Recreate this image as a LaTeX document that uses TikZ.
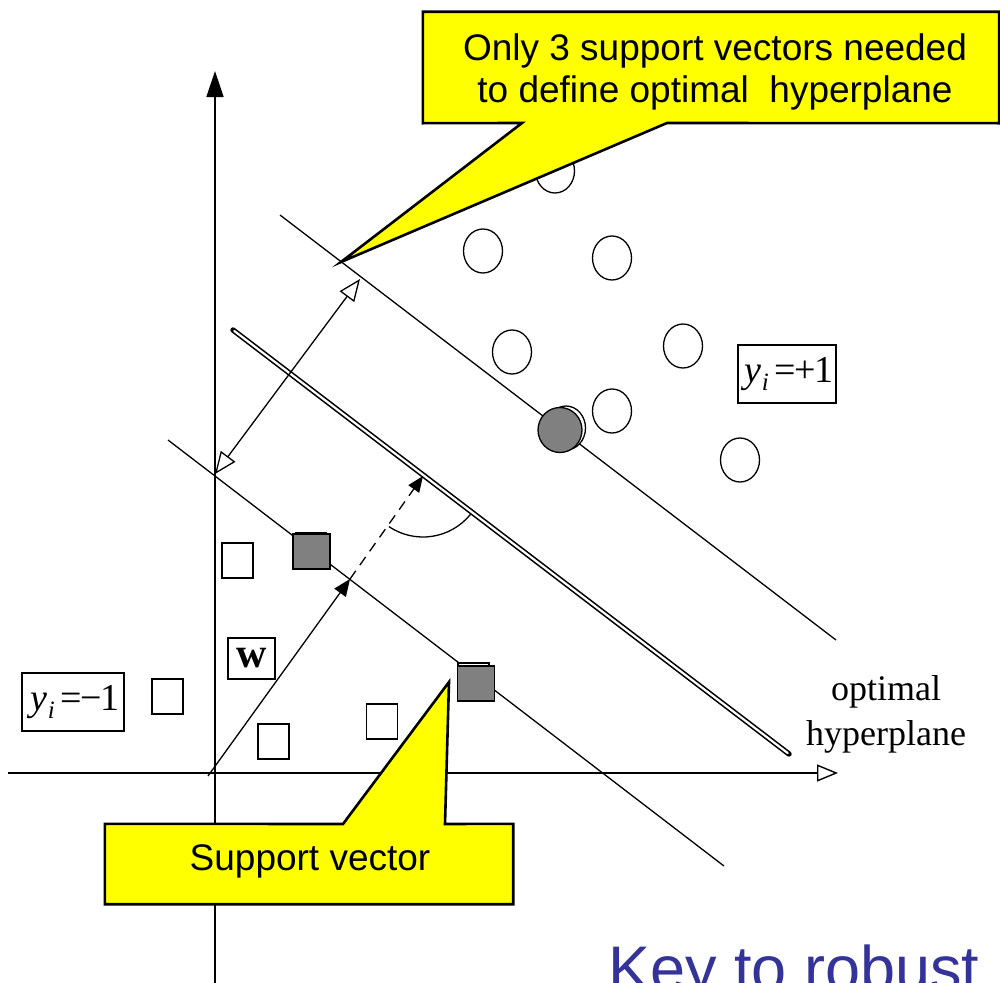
\documentclass[tikz,border=0pt]{standalone}
\usepackage{fontspec}
\setmainfont{Liberation Serif}
\newfontfamily\calloutfont{Liberation Sans}
\usetikzlibrary{arrows.meta,shapes.geometric}
\definecolor{callyellow}{HTML}{FFFF00}
\definecolor{svgray}{HTML}{808080}
\definecolor{titleblue}{HTML}{333399}

% label y_i with a sign
\newcommand\yilabel[1]{\hspace{0.12em}\textit{y}\raisebox{-0.22em}{\fontsize{25}{25}\selectfont\textit{i}}\hspace{0.14em}=\kern-0.04em#1\kern-0.02em1}

\begin{document}
\begin{tikzpicture}[x=1pt,y=-1pt,
  thinline/.style={line width=1.3pt},
  axisline/.style={line width=1.4pt},
  opensq/.style={draw,fill=white,line width=1.3pt,minimum width=31,minimum height=35,inner sep=0pt,rectangle},
  graysq/.style={draw,fill=svgray,line width=1.3pt,minimum width=37,minimum height=35,inner sep=0pt,rectangle},
  opencirc/.style={draw,fill=white,ellipse,line width=1.3pt,minimum width=39,minimum height=44,inner sep=0pt},
  graycirc/.style={draw,fill=svgray,ellipse,line width=1.3pt,minimum width=44,minimum height=45,inner sep=0pt},
  labelbox/.style={draw,line width=1.3pt,inner sep=0pt,font=\fontsize{38}{38}\selectfont},
  callout/.style={draw,fill=callyellow,line width=2.6pt,line join=miter},
  callouttext/.style={font=\calloutfont\fontsize{37}{42}\selectfont,align=center,inner sep=0pt}
]
\clip (0,0) rectangle (1000,982);
\fill[white] (0,0) rectangle (1000,982);

% coordinate axes
\coordinate (ybot) at (215,990);
\coordinate (ytop) at (215,71);
\coordinate (xleft) at (8,773);
\coordinate (xright) at (838,773);
\draw[axisline,-{Triangle[length=26,width=17]}] (ybot) -- (ytop);
\draw[axisline,-{Triangle[open,length=21,width=17,line width=1.4pt]}] (xleft) -- (xright);

% margin lines
\coordinate (ua) at (280,215);
\coordinate (ub) at (836,640);
\coordinate (la) at (168,440);
\coordinate (lb) at (724,866);
\draw[thinline] (ua) -- (ub);
\draw[thinline] (la) -- (lb);

% optimal hyperplane (double line with closed ends)
\coordinate (ha) at (233,330);
\coordinate (hb) at (789,754);
\draw[line width=5.4pt,line cap=round] (ha) -- (hb);
\draw[white,line width=2.2pt,line cap=round,shorten <=1.6pt,shorten >=1.6pt] (ha) -- (hb);

% margin width arrow
\coordinate (mlo) at (215,474);
\coordinate (mhi) at (360,279);
\draw[thinline,{Triangle[open,length=22,width=18,line width=1.3pt]}-{Triangle[open,length=22,width=18,line width=1.3pt]}] (mlo) -- (mhi);

% weight vector w
\coordinate (origin) at (208,776);
\coordinate (wtip) at (350,579);
\coordinate (htip) at (423,476);
\draw[thinline,-{Triangle[length=17,width=14]}] (origin) -- (wtip);
\draw[thinline,dash pattern=on 10pt off 7pt,-{Triangle[length=16,width=13]}] (wtip) -- (htip);
\draw[thinline] ([shift={(124:61)}]htip) arc[start angle=124,end angle=39,radius=61];

% class +1 points
\node[opencirc] (c1) at (555,171) {};
\node[opencirc] (c2) at (483,251) {};
\node[opencirc] (c3) at (612,258) {};
\node[opencirc] (c4) at (512,352) {};
\node[opencirc] (c5) at (683,346) {};
\node[opencirc] (c6) at (612,411) {};
\node[opencirc] (c7) at (740,460) {};
\node[opencirc] (c8) at (566,428) {};
\node[graycirc] (sv1) at (560,430) {};

% class -1 points
\node[opensq] (s1) at (237.5,560.5) {};
\node[opensq] (s2) at (167.5,696.5) {};
\node[opensq] (s3) at (273.5,741.5) {};
\node[opensq] (s4) at (382,721.5) {};
\node[opensq] (s5) at (311,550) {};
\node[graysq] (sv2) at (311.5,551.5) {};
\node[opensq] (s6) at (473.5,680.5) {};
\node[graysq] (sv3) at (476,683.5) {};

% labels
\node[labelbox,minimum width=98,minimum height=58] (plus) at (787,374) {\yilabel{+}};
\node[labelbox,minimum width=102,minimum height=58] (minus) at (73,702) {\yilabel{−}};
\node[labelbox,minimum width=47,minimum height=41,font=\fontsize{42}{42}\selectfont] (wlab) at (251.5,658.5) {\textbf{w}};
\node[font=\fontsize{36}{45}\selectfont,align=center,inner sep=0pt] (hyp) at (886,714.5) {optimal\\hyperplane};

% callout: support vectors
\node[minimum width=576,minimum height=111,inner sep=0pt] (topbox) at (711,67.5) {};
\coordinate (toptip) at (341,262);
\draw[callout] (topbox.north west) -- (topbox.north east) -- (topbox.south east)
  -- (667,123) -- (toptip) -- (522,123) -- (topbox.south west) -- cycle;
\node[callouttext] (toptext) at (715,71.5) {Only 3 support vectors needed\\to define optimal\ \ hyperplane};

% callout: support vector
\node[minimum width=408,minimum height=80,inner sep=0pt] (botbox) at (309,864) {};
\coordinate (bottip) at (449,682);
\draw[callout] (botbox.north west) -- (343,824) -- (bottip) -- (445,824)
  -- (botbox.north east) -- (botbox.south east) -- (botbox.south west) -- cycle;
\node[callouttext,anchor=base] (bottext) at (310,870) {Support vector};

% slide heading
\node[anchor=base west,inner sep=0pt,text=titleblue,font=\calloutfont\fontsize{63}{63}\selectfont] (key) at (608,990) {Key to robust};
\end{tikzpicture}
\end{document}
